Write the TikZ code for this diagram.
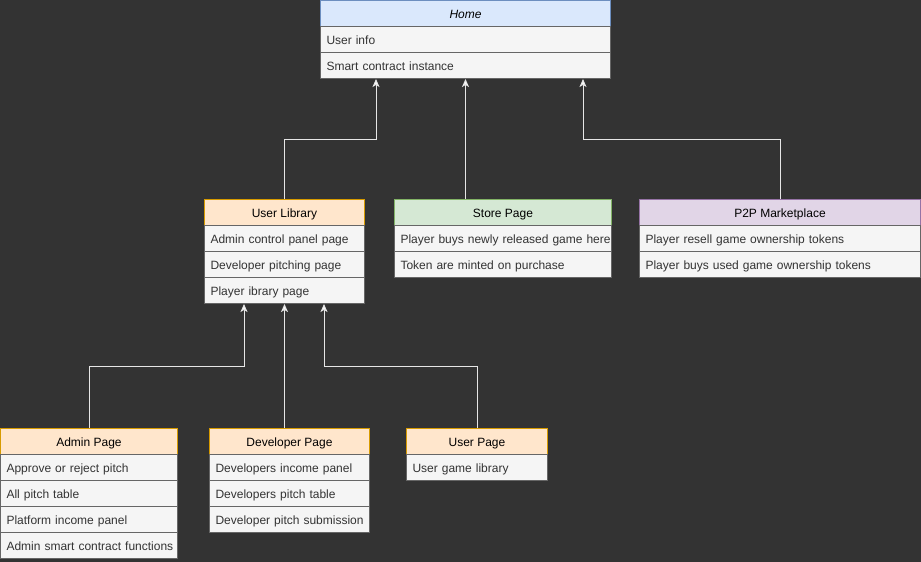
\documentclass[tikz,border=0pt]{standalone}
\usepackage{fontspec}
\setmainfont{Liberation Sans}
\usetikzlibrary{arrows.meta}
\definecolor{bg}{HTML}{333333}
\definecolor{rowfill}{HTML}{F5F5F5}
\definecolor{rowline}{HTML}{666666}
\definecolor{rowtext}{HTML}{333333}
\definecolor{bluef}{HTML}{DAE8FC}\definecolor{blued}{HTML}{6C8EBF}
\definecolor{orgf}{HTML}{FFE6CC}\definecolor{orgd}{HTML}{D79B00}
\definecolor{grnf}{HTML}{D5E8D4}\definecolor{grnd}{HTML}{82B366}
\definecolor{purf}{HTML}{E1D5E7}\definecolor{purd}{HTML}{9673A6}
\definecolor{edge}{HTML}{E6E6E6}
\tikzset{
  txt/.style={font=\fontsize{12}{14}\selectfont, text height=11pt, text depth=1pt},
  hdr/.style={txt, anchor=north west, minimum height=26pt, inner sep=0pt, line width=1pt, text=black},
  rowbox/.style={txt, draw=rowline, fill=rowfill, anchor=north west, minimum height=26pt, inner xsep=6pt, inner ysep=0pt, align=left, text=rowtext, line width=1pt},
  arr/.style={draw=edge, line width=1pt, -{Stealth[length=8pt,width=7pt,inset=2pt,fill=white]}}
}
\newcommand{\rowitem}[5]{\node[rowbox, text width=\the\dimexpr #4pt-12pt\relax] (#1) at (#2,#3) {\mbox{#5}};}
\begin{document}
\begin{tikzpicture}[x=1pt,y=-1pt]
\fill[bg] (0,0) rectangle (921,562);
\useasboundingbox (0,0) rectangle (921,562);
% Home
\node[hdr, draw=blued, fill=bluef, minimum width=290pt] (homeH) at (320,0) {\itshape Home};
\rowitem{homeA}{320}{26}{290}{User info}
\rowitem{homeC}{320}{52}{290}{Smart contract instance}
% User Library
\node[hdr, draw=orgd, fill=orgf, minimum width=160pt] (libH) at (204,199) {User Library};
\rowitem{libA}{204}{225}{160}{Admin control panel page}
\rowitem{libB}{204}{251}{160}{Developer pitching page}
\rowitem{libC}{204}{277}{160}{Player ibrary page}
% Store Page
\node[hdr, draw=grnd, fill=grnf, minimum width=217pt] (storeH) at (394,199) {Store Page};
\rowitem{storeA}{394}{225}{217}{Player buys newly released game here}
\rowitem{storeB}{394}{251}{217}{Token are minted on purchase}
% P2P
\node[hdr, draw=purd, fill=purf, minimum width=281pt] (p2pH) at (639,199) {P2P Marketplace};
\rowitem{p2pA}{639}{225}{281}{Player resell game ownership tokens}
\rowitem{p2pB}{639}{251}{281}{Player buys used game ownership tokens}
% Admin Page
\node[hdr, draw=orgd, fill=orgf, minimum width=177pt] (admH) at (0,428) {Admin Page};
\rowitem{admA}{0}{454}{177}{Approve or reject pitch}
\rowitem{admB}{0}{480}{177}{All pitch table}
\rowitem{admC}{0}{506}{177}{Platform income panel}
\rowitem{admD}{0}{532}{177}{Admin smart contract functions}
% Developer Page
\node[hdr, draw=orgd, fill=orgf, minimum width=160pt] (devH) at (209,428) {Developer Page};
\rowitem{devA}{209}{454}{160}{Developers income panel}
\rowitem{devB}{209}{480}{160}{Developers pitch table}
\rowitem{devC}{209}{506}{160}{Developer pitch submission}
% User Page
\node[hdr, draw=orgd, fill=orgf, minimum width=141pt] (usrH) at (406,428) {User Page};
\rowitem{usrA}{406}{454}{141}{User game library}
% connectors
\draw[arr] (libH.north) -- ++(0,-60) -| ([xshift=56pt]homeC.south west);
\draw[arr] (homeC.south |- storeH.north) -- (homeC.south);
\draw[arr] (p2pH.north) -- ++(0,-60) -| ([xshift=263pt]homeC.south west);
\draw[arr] (admH.north) -- ++(0,-62) -| ([xshift=40pt]libC.south west);
\draw[arr] (libC.south |- devH.north) -- (libC.south);
\draw[arr] (usrH.north) -- ++(0,-62) -| ([xshift=120pt]libC.south west);
\end{tikzpicture}
\end{document}
